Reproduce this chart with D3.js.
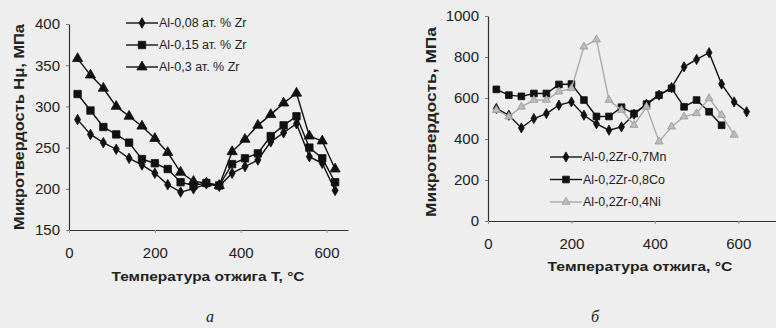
<!DOCTYPE html>
<html>
<head>
<meta charset="utf-8">
<script src="https://cdn.jsdelivr.net/npm/d3@7"></script>
<style>
    body { margin: 0; background: #eeeeee; }
    svg { display: block; }
</style>
</head>
<body>
<div id="chart"></div>
<script>
// температура отжига, общая для обоих графиков
const temps = [20, 50, 80, 110, 140, 170, 200, 230, 260, 290, 320, 350, 380, 410, 440, 470, 500, 530, 560, 590, 620]

// график а: Al-Zr
const zr008 = [284, 266, 256, 248, 237, 229, 219, 205, 196, 200, 206, 203, 219, 227, 235, 257, 268, 279, 239, 231, 198]
const zr015 = [315, 295, 275, 266, 256, 236, 231, 224, 208, 204, 207, 204, 230, 237, 243, 264, 277, 288, 250, 237, 208]
const zr03 = [358, 338, 322, 300, 288, 276, 261, 244, 220, 209, 207, 204, 245, 260, 277, 290, 304, 316, 264, 258, 224]

// график б: Al-Zr-(Mn, Co, Ni)
const mn07 = [549, 516, 454, 500, 524, 565, 581, 516, 474, 443, 459, 521, 570, 614, 651, 752, 788, 821, 668, 581, 533]
const co08 = [642, 614, 608, 622, 622, 666, 668, 590, 510, 510, 555, 524, 570, 614, 647, 557, 590, 533, 467]
const ni04 = [541, 509, 557, 590, 590, 631, 647, 850, 885, 590, 541, 468, 557, 387, 460, 509, 525, 598, 517, 420]

const ticksA_y = [150, 200, 250, 300, 350, 400]
const ticksB_y = [0, 200, 400, 600, 800, 1000]
const ticksX = [0, 200, 400, 600]

let W = 776, H = 328
let svg = d3.select("#chart").append("svg")
    .attr("width", W)
    .attr("height", H)
    .style("font-family", "Arial, 'Liberation Sans', sans-serif")

function DrawPanel(opt) {
    let x = d3.scaleLinear().domain(opt.xDomain).range(opt.xRange)
    let y = d3.scaleLinear().domain(opt.yDomain).range(opt.yRange)
    let g = svg.append("g")

    //оси
    let yAxis = d3.axisLeft(y).tickValues(opt.yTicks).tickFormat(d3.format("d"))
        .tickSize(3).tickSizeOuter(0).tickPadding(6)
    let xAxis = d3.axisBottom(x).tickValues(ticksX).tickFormat(d3.format("d"))
        .tickSize(3).tickSizeOuter(0).tickPadding(opt.xPad)

    g.append("g")
        .attr("transform", "translate(" + opt.xRange[0] + ",0)")
        .call(yAxis)
        .call(a => a.select(".domain").attr("stroke", "#333").attr("stroke-width", 1.2))
        .call(a => a.selectAll(".tick line").attr("stroke", "#777"))
        .call(a => a.selectAll("text").style("font-size", "15px").attr("fill", "#222"))

    g.append("g")
        .attr("transform", "translate(0," + opt.yRange[0] + ")")
        .call(xAxis)
        .call(a => a.select(".domain").attr("stroke", "#333").attr("stroke-width", 1.2))
        .call(a => a.selectAll(".tick line").attr("stroke", "#999"))
        .call(a => a.selectAll("text").style("font-size", "15px").attr("fill", "#222"))

    //подписи осей
    g.append("text")
        .attr("transform", "translate(" + opt.yTitleX + "," + opt.yTitleY + ") rotate(-90)")
        .attr("text-anchor", "middle")
        .attr("textLength", opt.yTitleLen)
        .attr("lengthAdjust", "spacingAndGlyphs")
        .style("font-size", "14px")
        .style("font-weight", "bold")
        .attr("fill", "#222")
        .text(opt.yTitle)

    g.append("text")
        .attr("x", opt.xTitleX)
        .attr("y", opt.xTitleY)
        .attr("text-anchor", "middle")
        .attr("textLength", opt.xTitleLen)
        .attr("lengthAdjust", "spacingAndGlyphs")
        .style("font-size", "13px")
        .style("font-weight", "bold")
        .attr("fill", "#222")
        .text(opt.xTitle)

    g.append("text")
        .attr("x", opt.capX)
        .attr("y", 322)
        .attr("text-anchor", "middle")
        .style("font-family", "'Liberation Serif', 'DejaVu Serif', serif")
        .style("font-style", "italic")
        .style("font-size", "16px")
        .attr("fill", "#222")
        .text(opt.caption)

    //линии и маркеры
    let line = d3.line()
        .x(d => x(d[0]))
        .y(d => y(d[1]))

    opt.series.forEach(function (s, k) {
        let pts = s.values.map((v, i) => [temps[i], v])
        g.append("path")
            .datum(pts)
            .attr("d", line)
            .attr("fill", "none")
            .attr("stroke", s.color)
            .attr("stroke-width", 1.4)

        g.selectAll(".m" + k)
            .data(pts)
            .enter()
            .append("path")
            .attr("class", "m" + k)
            .attr("transform", d => "translate(" + x(d[0]) + "," + y(d[1]) + ")")
            .attr("d", d3.symbol().type(s.symbol).size(s.size))
            .attr("fill", s.fill)
            .attr("stroke", s.stroke)
            .attr("stroke-width", 0.8)

        //легенда
        let ly = opt.legY + k * opt.legDy
        g.append("line")
            .attr("x1", opt.legX).attr("x2", opt.legX + 32)
            .attr("y1", ly).attr("y2", ly)
            .attr("stroke", s.color)
            .attr("stroke-width", 1.4)
        g.append("path")
            .attr("transform", "translate(" + (opt.legX + 16) + "," + ly + ")")
            .attr("d", d3.symbol().type(s.symbol).size(s.size))
            .attr("fill", s.fill)
            .attr("stroke", s.stroke)
            .attr("stroke-width", 0.8)
        g.append("text")
            .attr("x", opt.legX + 33)
            .attr("y", ly)
            .attr("dy", "0.35em")
            .style("font-size", "12.5px")
            .attr("fill", "#222")
            .text(s.name)
    })
}

DrawPanel({
    xDomain: [0, 650], xRange: [69, 348],
    yDomain: [150, 400], yRange: [230, 24],
    yTicks: ticksA_y, xPad: 14,
    yTitle: "Микротвердость Нμ, МПа", yTitleX: 24, yTitleY: 127, yTitleLen: 206,
    xTitle: "Температура отжига T, °C", xTitleX: 208, xTitleY: 281, xTitleLen: 193,
    caption: "а", capX: 210,
    legX: 126, legY: 23, legDy: 22,
    series: [
        { name: "Al-0,08 ат. % Zr", values: zr008, symbol: d3.symbolDiamond, size: 32, color: "#111", fill: "#111", stroke: "#111" },
        { name: "Al-0,15 ат. % Zr", values: zr015, symbol: d3.symbolSquare, size: 55, color: "#111", fill: "#111", stroke: "#111" },
        { name: "Al-0,3 ат. % Zr", values: zr03, symbol: d3.symbolTriangle, size: 45, color: "#111", fill: "#111", stroke: "#111" }
    ]
})

DrawPanel({
    xDomain: [0, 700], xRange: [488, 780],
    yDomain: [0, 1000], yRange: [221, 16],
    yTicks: ticksB_y, xPad: 14,
    yTitle: "Микротвердость, МПа", yTitleX: 436, yTitleY: 122, yTitleLen: 190,
    xTitle: "Температура отжига, °C", xTitleX: 640, xTitleY: 271, xTitleLen: 185,
    caption: "б", capX: 595,
    legX: 550, legY: 157, legDy: 22.5,
    series: [
        { name: "Al-0,2Zr-0,7Mn", values: mn07, symbol: d3.symbolDiamond, size: 30, color: "#111", fill: "#111", stroke: "#111" },
        { name: "Al-0,2Zr-0,8Co", values: co08, symbol: d3.symbolSquare, size: 45, color: "#111", fill: "#111", stroke: "#111" },
        { name: "Al-0,2Zr-0,4Ni", values: ni04, symbol: d3.symbolTriangle, size: 28, color: "#aaa", fill: "#bbb", stroke: "#999" }
    ]
})
</script>
</body>
</html>
